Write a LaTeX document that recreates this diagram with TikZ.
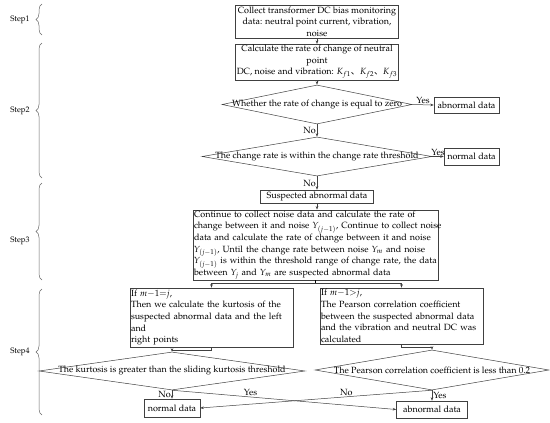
\documentclass[tikz,border=0pt]{standalone}
\usepackage{fontspec}
\newfontfamily\cjk{Noto Sans CJK SC}
\usepackage[T1]{fontenc}
\usepackage{mathpazo}
\usepackage{tikz}
\usetikzlibrary{shapes.geometric,arrows.meta,decorations.pathreplacing}

\newcommand{\jline}[1]{\makebox[243pt][s]{#1}}

\begin{document}
\begin{tikzpicture}[x=1pt,y=-1pt,
  font=\fontsize{9}{11.6}\selectfont,
  line width=0.5pt,
  box/.style={draw=black!75, inner sep=1pt},
  decide/.style={draw=black!75, diamond, inner sep=0pt},
  arr/.style={draw=black!75, -{Stealth[length=3.5pt,width=2.6pt]}},
  lab/.style={inner sep=1pt},
  stepbrace/.style={draw=black!60, decorate, decoration={brace, amplitude=6pt}},
  steplab/.style={font=\fontsize{8}{9}\selectfont}]
\useasboundingbox (0,0) rectangle (550,423);

% steps on the left
\draw[stepbrace] (42,35) -- (42,4);
\draw[stepbrace] (42,178) -- (42,43);
\draw[stepbrace] (42,280) -- (42,183);
\draw[stepbrace] (42,415) -- (42,289);
\node[steplab] (st1) at (20,20) {Step1};
\node[steplab] (st2) at (20,111) {Step2};
\node[steplab] (st3) at (20,241) {Step3};
\node[steplab] (st4) at (20,352) {Step4};

% step 1 and 2
\node[box, align=center, minimum width=163pt, minimum height=33pt] (collect) at (317,21.5)
  {Collect transformer DC bias monitoring\\data: neutral point current, vibration,\\noise};
\node[box, align=center, minimum width=163pt, minimum height=32pt] (rate) at (317,62)
  {Calculate the rate of change of neutral\\point\\DC, noise and vibration: $K_{f1}${\cjk 、}$K_{f2}${\cjk 、}$K_{f3}$};
\node[decide, minimum width=190pt, minimum height=39pt] (zero) at (317,104.5)
  {\makebox[0pt]{Whether the rate of change is equal to zero}};
\node[box, minimum width=65pt, minimum height=16pt] (abn1) at (466.5,105) {abnormal data};
\node[decide, minimum width=230pt, minimum height=39pt] (thr) at (317,156.5)
  {\makebox[0pt]{The change rate is within the change rate threshold}};
\node[box, minimum width=55pt, minimum height=17pt] (norm1) at (471.5,156.5) {normal data};

% step 3
\node[box, minimum width=113pt, minimum height=13pt] (susp) at (317,196.5) {Suspected abnormal data};
\node[box, text width=243pt, align=left] (cont) at (315.5,245)
  {\jline{Continue to collect noise data and calculate the rate of}\\
   \jline{change between it and noise $Y_{(j-1)}$, Continue to collect noise}\\
   \jline{data and calculate the rate of change between it and noise}\\
   \jline{$Y_{(j-1)}$, Until the change rate between noise $Y_m$ and noise}\\
   \jline{$Y_{(j-1)}$ is within the threshold range of change rate, the data}\\
   between $Y_j$ and $Y_m$ are suspected abnormal data};

% step 4
\node[box, text width=161pt, align=left, minimum height=59pt] (kurt) at (211.5,317.5)
  {If $m{-}1{=}j$,\\Then we calculate the kurtosis of the\\suspected abnormal data and the left\\and\\right points};
\node[box, text width=161pt, align=left, minimum height=56pt] (pear) at (401.5,316)
  {If $m{-}1{>}j$,\\The Pearson correlation coefficient\\between the suspected abnormal data\\and the vibration and neutral DC was\\calculated};
\node[decide, minimum width=266pt, minimum height=38pt] (kthr) at (172,371)
  {\makebox[0pt]{The kurtosis is greater than the sliding kurtosis threshold}};
\node[decide, minimum width=234pt, minimum height=40pt] (pthr) at (432,370)
  {\makebox[0pt]{The Pearson correlation coefficient is less than 0.2}};
\node[box, minimum width=56pt, minimum height=18pt] (norm2) at (172,408) {normal data};
\node[box, minimum width=71pt, minimum height=17pt] (abn2) at (432,409.5) {abnormal data};

% connectors
\draw[arr] (collect.south) -- (rate.north);
\draw[arr] (rate.south) -- (zero.north);
\draw[arr] (zero.east) -- node[lab, above] (yes1) {Yes} (abn1.west);
\draw[arr] (zero.south) -- node[lab, left] (no1) {No} (thr.north);
\draw[arr] (thr.east) -- node[lab, above] (yes2) {Yes} (norm1.west);
\draw[arr] (thr.south) -- node[lab, left] (no2) {No} (susp.north);
\draw[arr] (susp.south) -- (susp.south |- cont.north);
\draw (cont.south) -- ++(0,3) coordinate (fork);
\draw[arr] (fork) -| (kurt.north);
\draw[arr] (fork) -| (pear.north);
\draw[arr] (kurt.south) -- ++(0,2.5) -| (kthr.north);
\draw[arr] (pear.south) -- ++(0,2.5) -| (pthr.north);
\draw[arr] (kthr.south) -- node[lab, left] (no3) {No} (norm2.north);
\draw[arr] (kthr.south) -- node[lab, above, pos=0.35] (yes3) {Yes} (abn2.west);
\draw[arr] (pthr.south) -- node[lab, above, pos=0.37] (no4) {No} (norm2.east);
\draw[arr] (pthr.south) -- node[lab, right] (yes4) {Yes} (abn2.north);
\end{tikzpicture}
\end{document}
